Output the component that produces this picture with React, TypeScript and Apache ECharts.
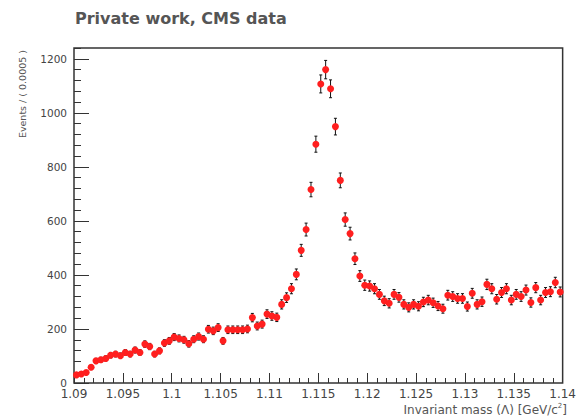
import React, { useEffect, useRef } from "react";
import * as echarts from "echarts";

// Histogram binning (GeV/c^2)
const binStart = 1.09;
const binWidth = 0.0005;

// Events per bin
const counts: number[] = [
  30, 33, 39, 58, 82, 86, 91, 103, 107, 101,
  113, 107, 122, 113, 144, 135, 107, 119, 148, 156,
  170, 165, 160, 145, 162, 172, 162, 199, 193, 205,
  156, 197, 197, 197, 197, 200, 242, 211, 218, 255,
  248, 243, 291, 316, 349, 402, 491, 568, 716, 884,
  1107, 1160, 1089, 949, 750, 605, 553, 460, 396, 362,
  359, 349, 328, 304, 295, 328, 317, 291, 280, 291,
  284, 300, 307, 297, 285, 275, 325, 320, 313, 313,
  283, 332, 291, 301, 365, 349, 310, 335, 349, 307,
  328, 320, 344, 298, 353, 307, 335, 338, 372, 337,
];

const xMin = 1.09;
const xMax = 1.14;
const xStep = 0.005;
const yMin = 0;
const yMax = 1240;
const yStep = 200;
const yMinorStep = 40;

const titleText = "Private work, CMS data";
const yTitle = "Events / ( 0.0005 )";

const FONT = "'DejaVu Sans', sans-serif";

export default function App() {
  const ref = useRef<HTMLDivElement>(null);

  useEffect(() => {
    if (!ref.current) return;
    const chart = echarts.init(ref.current, null, { renderer: "svg" });

    const centers = counts.map((_, i) => binStart + (i + 0.5) * binWidth);
    const points = counts.map((c, i) => [centers[i], c]);
    const errors = counts.map((c, i) => [centers[i], c - Math.sqrt(c), c + Math.sqrt(c)]);

    const tickColor = "#333";

    chart.setOption({
      animation: false,
      backgroundColor: "#ffffff",
      title: {
        text: titleText,
        left: 70,
        top: 5,
        textStyle: { fontFamily: FONT, fontSize: 16, fontWeight: "bold", color: "#555" },
      },
      grid: {
        left: 74,
        right: 11,
        top: 48,
        bottom: 34,
        show: true,
        borderColor: "#333",
        borderWidth: 1.5,
        backgroundColor: "transparent",
      },
      xAxis: [
        {
          type: "value",
          position: "bottom",
          min: xMin,
          max: xMax,
          interval: xStep,
          axisLine: { show: false },
          splitLine: { show: false },
          axisTick: { inside: true, length: 10, lineStyle: { color: tickColor, width: 1 } },
          minorTick: { show: true, splitNumber: 5, length: 5, lineStyle: { color: tickColor, width: 1 } },
          axisLabel: {
            margin: 5,
            fontFamily: FONT,
            fontSize: 12,
            color: "#444",
            formatter: (v: number) => String(+v.toFixed(3)),
          },
        },
      ],
      yAxis: [
        {
          type: "value",
          position: "left",
          min: yMin,
          max: yMax,
          interval: yStep,
          axisLine: { show: false },
          splitLine: { show: false },
          axisTick: { inside: true, length: 15, lineStyle: { color: tickColor, width: 1 } },
          axisLabel: {
            margin: 7,
            fontFamily: FONT,
            fontSize: 10.5,
            color: "#444",
            showMaxLabel: false,
            formatter: (v: number) => String(Math.round(v)),
          },
        },
        {
          type: "value",
          position: "left",
          offset: 0,
          min: yMin,
          max: yMax,
          interval: yMinorStep,
          axisLine: { show: false },
          splitLine: { show: false },
          axisTick: { show: true, inside: true, length: 7, lineStyle: { color: tickColor, width: 1 } },
          axisLabel: { show: false },
        },
      ],
      graphic: [
        {
          type: "text",
          x: 22,
          y: 50,
          rotation: Math.PI / 2,
          style: {
            text: yTitle,
            align: "right",
            verticalAlign: "middle",
            font: `9.5px ${FONT}`,
            fill: "#555",
          },
        },
        {
          type: "text",
          x: 567,
          y: 410,
          style: {
            text: "{a|Invariant mass (Λ) [GeV/c}{s|2}{a|]}",
            align: "right",
            verticalAlign: "middle",
            rich: {
              a: { fontFamily: FONT, fontSize: 12, fill: "#555", color: "#555" },
              s: { fontFamily: FONT, fontSize: 7, fill: "#555", color: "#555", padding: [0, 0, 8, 0] },
            },
          },
        },
      ],
      series: [
        {
          type: "custom",
          xAxisIndex: 0,
          yAxisIndex: 0,
          data: errors,
          encode: { x: 0, y: [1, 2] },
          z: 2,
          renderItem: (_params: any, api: any) => {
            const x = api.value(0);
            const lo = api.coord([x, api.value(1)]);
            const hi = api.coord([x, api.value(2)]);
            const st = { stroke: "#111", lineWidth: 1 };
            return {
              type: "group",
              children: [
                { type: "line", shape: { x1: lo[0], y1: lo[1], x2: hi[0], y2: hi[1] }, style: st },
                { type: "line", shape: { x1: lo[0] - 1.5, y1: lo[1], x2: lo[0] + 1.5, y2: lo[1] }, style: st },
                { type: "line", shape: { x1: hi[0] - 1.5, y1: hi[1], x2: hi[0] + 1.5, y2: hi[1] }, style: st },
              ],
            };
          },
        },
        {
          type: "scatter",
          xAxisIndex: 0,
          yAxisIndex: 0,
          data: points,
          symbol: "circle",
          symbolSize: 7,
          itemStyle: { color: "#ff1f1f", opacity: 1 },
          z: 3,
        },
      ],
    });

    return () => chart.dispose();
  }, []);

  return (
    <div
      ref={ref}
      style={{ position: "fixed", left: 0, top: 0, width: 579, height: 417, background: "#fff" }}
    />
  );
}
